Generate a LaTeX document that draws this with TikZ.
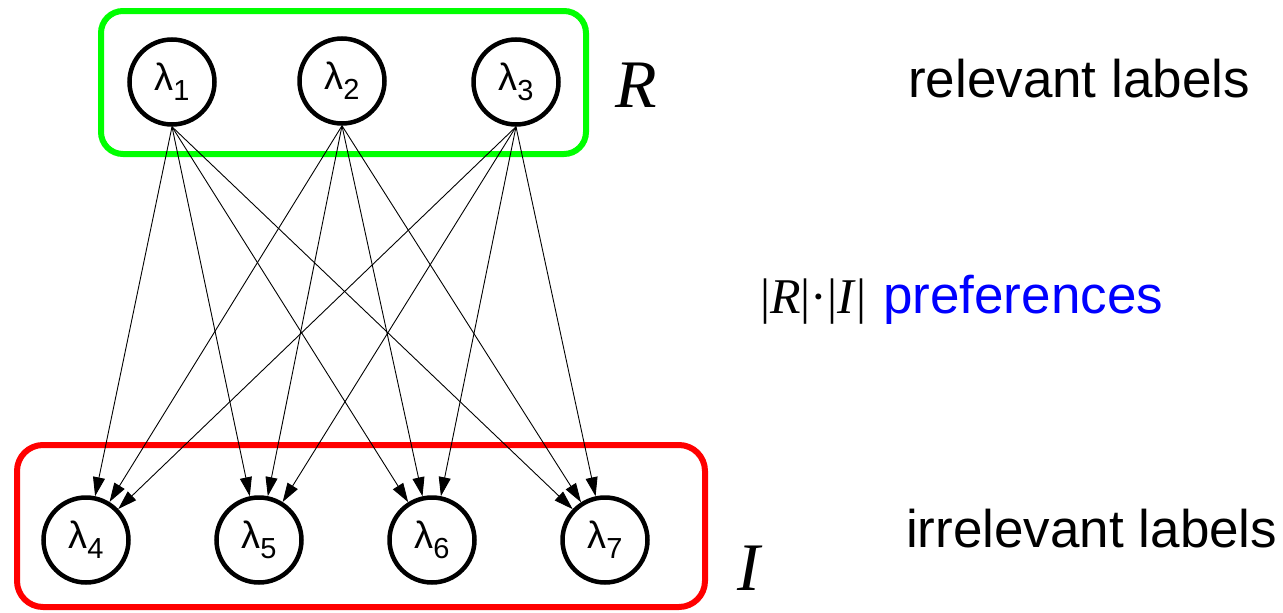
\documentclass[tikz,border=0pt]{standalone}
\usepackage{fontspec}
\setmainfont{Liberation Sans}
\newfontfamily\serifrm{Liberation Serif}
\usetikzlibrary{arrows.meta}
\newcommand\lamsub[1]{λ\raisebox{-10pt}{\fontsize{29}{30}\selectfont #1}}
\begin{document}
\begin{tikzpicture}[x=1pt,y=-1pt,
  lam/.style={circle,draw,line width=4.5pt,minimum size=85pt,inner sep=0pt,font=\fontsize{38}{40}\selectfont},
  pref/.style={-{Triangle[length=19pt,width=12pt]},line width=0.9pt},
  side/.style={font=\fontsize{53}{60}\selectfont,anchor=base west,inner sep=0pt},
  setlabel/.style={font=\fontsize{68}{70}\selectfont\serifrm\itshape,anchor=base west,inner sep=0pt}
]
\useasboundingbox (0,0) rectangle (1283,613);
\draw[green, line width=6pt, rounded corners=22pt] (101,11) rectangle (586,154);
\draw[red, line width=6pt, rounded corners=26pt] (17,445) rectangle (705,607);
\node[lam] (l1) at (172,82) {\lamsub{1}};
\node[lam] (l2) at (342,81) {\lamsub{2}};
\node[lam] (l3) at (516,82) {\lamsub{3}};
\node[lam] (l4) at (86,540) {\lamsub{4}};
\node[lam] (l5) at (259,540) {\lamsub{5}};
\node[lam] (l6) at (432,540) {\lamsub{6}};
\node[lam] (l7) at (605,540) {\lamsub{7}};
\foreach \a in {1,2,3}
  \foreach \b in {4,5,6,7}
    \draw[pref] (l\a.south) -- (l\b);
\node[setlabel] (R) at (615,107) {R};
\node[setlabel] (I) at (737,590) {I};
\node[side] (rel) at (908,97) {relevant labels};
\node[side] (irr) at (906,547) {irrelevant labels};
\node[anchor=base west,inner sep=0pt,font=\fontsize{50}{55}\selectfont\serifrm] (card) at (760,313) {|\textit{R}|·|\textit{I}|};
\node[side,text=blue] (pr) at (883,313) {preferences};
\end{tikzpicture}
\end{document}
